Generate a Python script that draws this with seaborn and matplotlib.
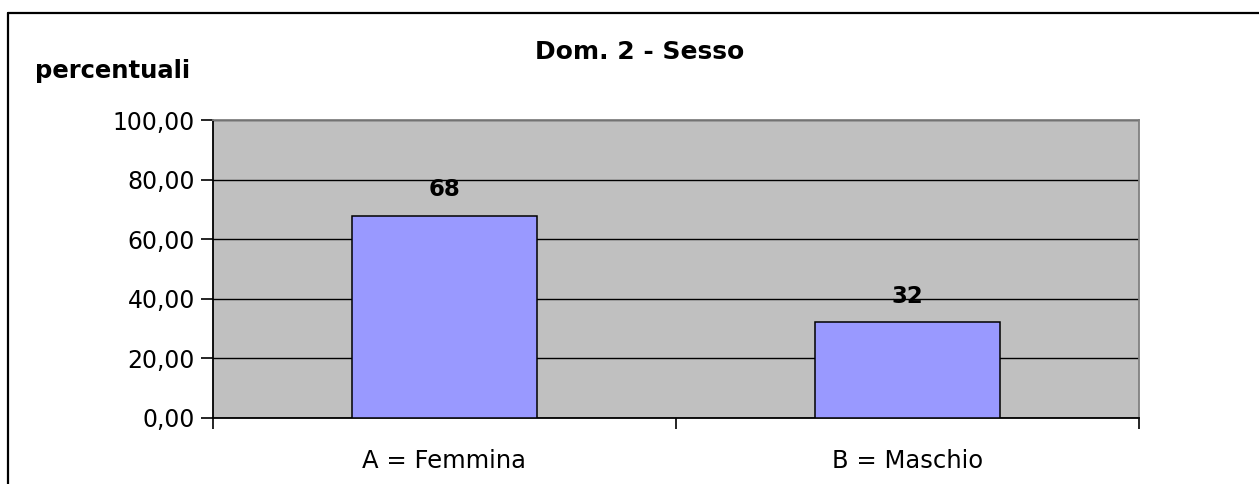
import matplotlib
matplotlib.use("Agg")
import matplotlib.pyplot as plt
import seaborn as sns
import pandas as pd
from matplotlib.lines import Line2D
from matplotlib.ticker import FuncFormatter

# data
categories = ["A = Femmina", "B = Maschio"]
percent = [67.8, 32.2]
labels = ["68", "32"]

title = "Dom. 2 - Sesso"
y_label = "percentuali"

df = pd.DataFrame({"categoria": categories, "percentuale": percent})

sns.set_style("white")
plt.rcParams["font.family"] = ["DejaVu Sans"]
plt.rcParams["text.color"] = "black"
plt.rcParams["axes.labelcolor"] = "black"
plt.rcParams["xtick.color"] = "black"
plt.rcParams["ytick.color"] = "black"

W, H = 1259, 484
fig = plt.figure(figsize=(W / 100, H / 100), dpi=100)
ax = fig.add_axes([213 / W, 1 - 418 / H, (1139 - 213) / W, (418 - 120) / H])
ax.set_facecolor("#C0C0C0")

sns.barplot(
    data=df,
    x="categoria",
    y="percentuale",
    color="#9999FF",
    saturation=1,
    width=0.4,
    edgecolor="black",
    linewidth=1.1,
    ax=ax,
    zorder=3,
)

ax.set_ylim(0, 100)
ax.set_xlim(-0.5, 1.5)
ax.set_yticks([0, 20, 40, 60, 80, 100])
ax.yaxis.set_major_formatter(FuncFormatter(lambda v, _: f"{v:.2f}".replace(".", ",")))
ax.grid(axis="y", color="black", linewidth=1.0, zorder=1)
ax.set_axisbelow(True)

# category boundaries carry the x ticks, like in Excel
ax.set_xticks([-0.5, 0.5, 1.5], minor=True)
ax.tick_params(axis="x", which="major", length=0, pad=22, labelsize=17.5, labelcolor="black")
ax.tick_params(axis="x", which="minor", length=8, width=1.2, color="black", direction="out")
ax.tick_params(axis="y", length=9, width=1.2, color="black", direction="out", pad=4,
               labelsize=17, labelcolor="black")
ax.tick_params(left=True, bottom=True, which="both")
ax.set_xlabel("")
ax.set_ylabel("")

for side in ["left", "bottom"]:
    ax.spines[side].set_color("black")
    ax.spines[side].set_linewidth(1.3)
for side in ["top", "right"]:
    ax.spines[side].set_color("#808080")
    ax.spines[side].set_linewidth(1.3)

for bar, lab in zip(ax.patches, labels):
    ax.annotate(
        lab,
        (bar.get_x() + bar.get_width() / 2, bar.get_height()),
        xytext=(0, 26),
        textcoords="offset pixels",
        ha="center",
        va="center",
        fontsize=16.5,
        fontweight="bold",
        color="black",
        zorder=5,
    )

fig.text(640 / W, 1 - 52 / H, title, ha="center", va="center", fontsize=18,
         fontweight="bold", color="black")
fig.text(35 / W, 1 - 71 / H, y_label, ha="left", va="center", fontsize=17.5,
         fontweight="bold", color="black")

# outer chart frame (only top and left visible in the reference)
fig.add_artist(Line2D([8 / W, 1.0], [1 - 13 / H, 1 - 13 / H], color="black", linewidth=1.6))
fig.add_artist(Line2D([8 / W, 8 / W], [0.0, 1 - 13 / H], color="black", linewidth=1.6))

fig.savefig("out.png", dpi=100)
